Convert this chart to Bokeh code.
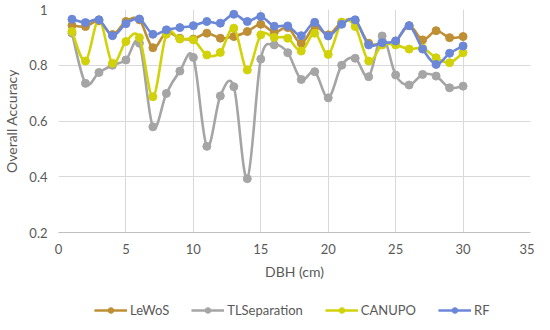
import numpy as np
from bokeh.plotting import figure
from bokeh.layouts import column
from bokeh.models import Range1d, FixedTicker, Legend, LegendItem, ColumnDataSource
from bokeh.embed import file_html
from bokeh.resources import INLINE

dbh = list(range(1, 31))
lewos = [0.943, 0.939, 0.959, 0.910, 0.957, 0.963, 0.863, 0.918, 0.897, 0.894,
         0.915, 0.897, 0.903, 0.921, 0.947, 0.918, 0.935, 0.879, 0.939, 0.909,
         0.954, 0.959, 0.879, 0.879, 0.887, 0.942, 0.891, 0.924, 0.899, 0.903]
tlsep = [0.915, 0.735, 0.774, 0.800, 0.819, 0.879, 0.579, 0.699, 0.779, 0.828,
         0.509, 0.690, 0.723, 0.393, 0.822, 0.873, 0.845, 0.749, 0.777, 0.683,
         0.800, 0.825, 0.759, 0.905, 0.765, 0.729, 0.767, 0.761, 0.719, 0.725]
canupo = [0.921, 0.815, 0.963, 0.807, 0.885, 0.899, 0.687, 0.911, 0.894, 0.891,
          0.837, 0.846, 0.933, 0.783, 0.909, 0.900, 0.897, 0.851, 0.915, 0.839,
          0.954, 0.939, 0.815, 0.873, 0.873, 0.858, 0.861, 0.827, 0.809, 0.845]
rf = [0.965, 0.953, 0.963, 0.906, 0.949, 0.966, 0.911, 0.927, 0.935, 0.942,
      0.957, 0.951, 0.983, 0.957, 0.975, 0.940, 0.941, 0.906, 0.954, 0.905,
      0.947, 0.963, 0.873, 0.881, 0.887, 0.942, 0.858, 0.803, 0.843, 0.869]

series_names = ["LeWoS", "TLSeparation", "CANUPO", "RF"]
series_values = [lewos, tlsep, canupo, rf]
series_colors = ["#BE8F34", "#A5A5A5", "#D2D20A", "#6B87D8"]

x_ticks = [0, 5, 10, 15, 20, 25, 30, 35]
y_ticks = [0.2, 0.4, 0.6, 0.8, 1.0]

FONT = "Lato"
TXT = "#595959"

p = figure(width=534, height=282, output_backend="svg", toolbar_location=None,
           x_range=Range1d(0, 35), y_range=Range1d(0.2, 1.0))
p.min_border_left = 52
p.min_border_right = 4
p.min_border_top = 9
p.min_border_bottom = 0
p.outline_line_color = None
p.background_fill_color = "white"
p.border_fill_color = "white"

p.xaxis.ticker = FixedTicker(ticks=x_ticks)
p.yaxis.ticker = FixedTicker(ticks=y_ticks)
p.yaxis.major_label_overrides = {1: "1"}
for ax in (p.xaxis[0], p.yaxis[0]):
    ax.major_tick_line_color = None
    ax.minor_tick_line_color = None
    ax.major_tick_out = 0
    ax.major_label_text_font = FONT
    ax.major_label_text_font_size = "13px"
    ax.major_label_text_color = TXT
    ax.axis_label_text_font = FONT
    ax.axis_label_text_font_size = "14px"
    ax.axis_label_text_font_style = "normal"
    ax.axis_label_text_color = TXT
p.xaxis.axis_line_color = "#BFBFBF"
p.yaxis.axis_line_color = None
p.xaxis.major_label_standoff = 11
p.yaxis.major_label_standoff = 11
p.xaxis.axis_label = "DBH (cm)"
p.yaxis.axis_label = "Overall Accuracy"
p.xaxis.axis_label_standoff = 6
p.yaxis.axis_label_standoff = 6
p.xgrid.grid_line_color = "#D9D9D9"
p.ygrid.grid_line_color = "#D9D9D9"


def smooth_segments(xs, ys):
    xs = np.asarray(xs, float)
    ys = np.asarray(ys, float)
    n = len(xs)
    xp = np.concatenate([[xs[0]], xs, [xs[-1]]])
    yp = np.concatenate([[ys[0]], ys, [ys[-1]]])
    d = dict(x0=[], y0=[], x1=[], y1=[], cx0=[], cy0=[], cx1=[], cy1=[])
    for i in range(n - 1):
        k = i + 1
        d["x0"].append(xp[k]); d["y0"].append(yp[k])
        d["x1"].append(xp[k + 1]); d["y1"].append(yp[k + 1])
        d["cx0"].append(xp[k] + (xp[k + 1] - xp[k - 1]) / 6)
        d["cy0"].append(yp[k] + (yp[k + 1] - yp[k - 1]) / 6)
        d["cx1"].append(xp[k + 1] - (xp[k + 2] - xp[k]) / 6)
        d["cy1"].append(yp[k + 1] - (yp[k + 2] - yp[k]) / 6)
    return d


for name, vals, col in zip(series_names, series_values, series_colors):
    src = ColumnDataSource(smooth_segments(dbh, vals))
    p.bezier(x0="x0", y0="y0", x1="x1", y1="y1", cx0="cx0", cy0="cy0",
             cx1="cx1", cy1="cy1", source=src, line_color=col, line_width=2.6)
    p.scatter(dbh, vals, size=8, marker="circle", fill_color=col, line_color=col)

# legend strip (its own small figure; its ranges keep the series out of view)
lg = figure(width=534, height=38, output_backend="svg", toolbar_location=None,
            x_range=Range1d(-100, -99), y_range=Range1d(-100, -99))
lg.axis.visible = False
lg.grid.visible = False
lg.outline_line_color = None
lg.min_border = 0
items = []
for name, vals, col in zip(series_names, series_values, series_colors):
    rl = lg.line(dbh, vals, line_color=col, line_width=2.6)
    rs = lg.scatter(dbh, vals, size=8, marker="circle", fill_color=col, line_color=col)
    items.append(LegendItem(label=name, renderers=[rl, rs]))

legend = Legend(items=items, orientation="horizontal", location="bottom_center",
                glyph_width=33, glyph_height=14, label_standoff=3, spacing=22,
                padding=0, margin=2, border_line_color=None, background_fill_alpha=0,
                label_text_font=FONT, label_text_font_size="13px", label_text_color=TXT)
lg.add_layout(legend, "center")

layout = column(p, lg, spacing=0)
open("out.html", "w").write(file_html(layout, INLINE))
